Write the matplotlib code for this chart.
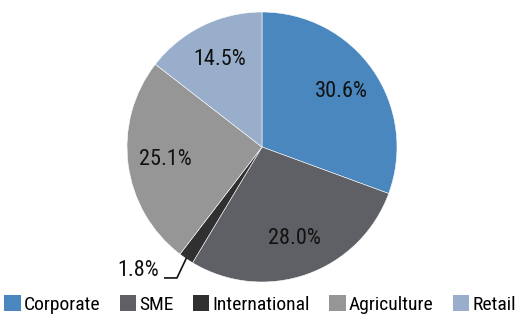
import matplotlib.pyplot as plt
import numpy as np

plt.rcParams['font.family'] = ['Roboto Condensed', 'Archivo Narrow', 'Liberation Sans', 'DejaVu Sans']

categories = ['Corporate', 'SME', 'International', 'Agriculture', 'Retail']
shares = [30.6, 28.0, 1.8, 25.1, 14.5]
colors = ['#4a87bf', '#5f6065', '#303030', '#969696', '#98aecb']

fig = plt.figure(figsize=(5.2, 3.2), dpi=100)
# pie centre ~ (262,147) px, radius ~135 px
ax = fig.add_axes([127 / 520, 38 / 320, 270 / 520, 270 / 320])

wedges, texts, autotexts = ax.pie(
    shares, colors=colors, startangle=90, counterclock=False,
    autopct='%.1f%%', pctdistance=0.72, radius=1,
    wedgeprops=dict(edgecolor='white', linewidth=0.4),
    textprops=dict(fontsize=16, color='#111111'))
ax.set_xlim(-1, 1)
ax.set_ylim(-1, 1)
ax.set_aspect('equal')

# small slice: label outside with elbow leader line
small = categories.index('International')
autotexts[small].set_visible(False)
w = wedges[small]
ang = np.deg2rad((w.theta1 + w.theta2) / 2)
x0, y0 = np.cos(ang), np.sin(ang)
xs = [x0, -0.63, -0.72]
ys = [y0, -0.97, -0.97]
ax.plot(xs, ys, color='#111111', lw=1.2, clip_on=False)
ax.text(-0.76, -0.915, f'{shares[small]:.1f}%', ha='right', va='center',
        fontsize=16, color='#111111')

leg = fig.legend(wedges, categories, loc='lower center', ncol=5,
                 bbox_to_anchor=(0.5, -0.005), frameon=False, fontsize=14,
                 handlelength=0.85, handleheight=0.85, handletextpad=0.15,
                 columnspacing=1.0, borderaxespad=0.0)
for h in leg.legend_handles:
    h.set_edgecolor('none')

fig.savefig('out.png', dpi=100)
